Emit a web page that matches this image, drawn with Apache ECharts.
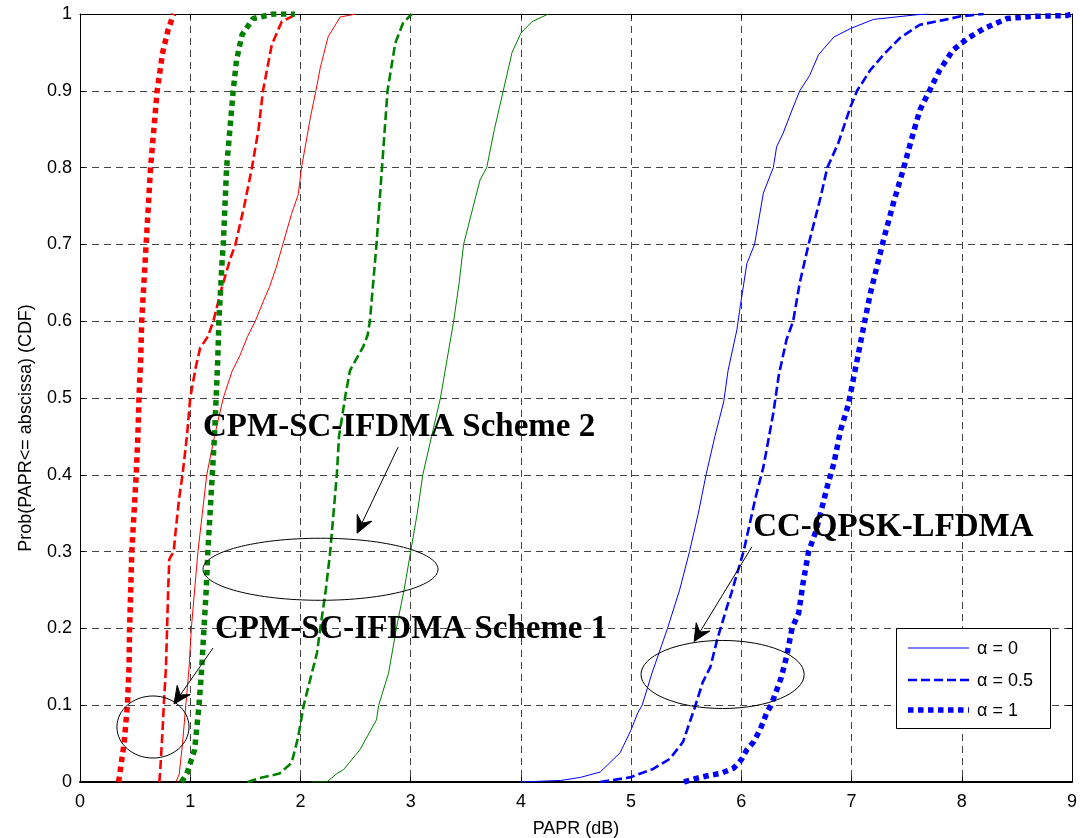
<!DOCTYPE html>
<html>
<head>
<meta charset="utf-8">
<title>PAPR CDF</title>
<script src="https://cdn.jsdelivr.net/npm/echarts@6/dist/echarts.min.js"></script>
<style>
  html, body { margin: 0; padding: 0; background: #fff; }
  #chart { width: 1085px; height: 838px; }
</style>
</head>
<body>
<div id="chart"></div>
<script>
// Empirical CDF curves of PAPR (dB), pairs of [PAPR, Prob]
// CPM-SC-IFDMA Scheme 1 (red)
const scheme1Alpha0 = [[0.87,0],[0.90,0.01],[0.93,0.05],[0.96,0.1],[0.99,0.15],[1.01,0.2],[1.04,0.25],[1.07,0.3],[1.11,0.35],[1.15,0.4],[1.22,0.45],[1.30,0.5],[1.38,0.535],[1.45,0.555],[1.52,0.58],[1.59,0.6],[1.66,0.625],[1.72,0.645],[1.78,0.67],[1.84,0.7],[1.92,0.74],[1.98,0.765],[2.01,0.8],[2.09,0.865],[2.14,0.9],[2.18,0.93],[2.25,0.97],[2.36,0.996],[2.5,1]];
const scheme1Alpha05 = [[0.72,0],[0.73,0.02],[0.75,0.07],[0.76,0.1],[0.78,0.15],[0.79,0.2],[0.80,0.25],[0.81,0.29],[0.85,0.30],[0.87,0.33],[0.90,0.37],[0.93,0.4],[0.97,0.45],[1.00,0.5],[1.05,0.54],[1.09,0.565],[1.16,0.58],[1.21,0.6],[1.28,0.64],[1.36,0.68],[1.41,0.7],[1.49,0.75],[1.56,0.8],[1.62,0.85],[1.66,0.9],[1.74,0.96],[1.83,0.99],[1.97,1.0]];
const scheme1Alpha1 = [[0.35,0],[0.37,0.02],[0.40,0.05],[0.43,0.1],[0.445,0.15],[0.45,0.2],[0.46,0.25],[0.47,0.3],[0.49,0.35],[0.51,0.4],[0.525,0.45],[0.535,0.5],[0.55,0.55],[0.56,0.6],[0.58,0.65],[0.60,0.7],[0.62,0.75],[0.64,0.8],[0.67,0.85],[0.70,0.9],[0.75,0.95],[0.80,0.98],[0.85,1.0]];
// CPM-SC-IFDMA Scheme 2 (green)
const scheme2Alpha0 = [[2.10,0],[2.24,0],[2.33,0.011],[2.39,0.016],[2.54,0.042],[2.69,0.081],[2.71,0.1],[2.80,0.142],[2.87,0.2],[2.94,0.25],[3.0,0.3],[3.06,0.35],[3.11,0.4],[3.19,0.45],[3.27,0.5],[3.33,0.55],[3.39,0.6],[3.44,0.65],[3.48,0.7],[3.59,0.762],[3.63,0.784],[3.69,0.8],[3.76,0.85],[3.84,0.9],[3.92,0.95],[4.0,0.975],[4.1,0.99],[4.25,1]];
const scheme2Alpha05 = [[1.52,0],[1.63,0.005],[1.81,0.011],[1.92,0.025],[1.98,0.059],[2.03,0.1],[2.10,0.14],[2.15,0.168],[2.18,0.2],[2.23,0.25],[2.27,0.3],[2.30,0.35],[2.33,0.4],[2.35,0.45],[2.41,0.505],[2.45,0.536],[2.57,0.567],[2.61,0.582],[2.63,0.6],[2.66,0.65],[2.69,0.7],[2.74,0.8],[2.79,0.9],[2.86,0.962],[2.93,0.988],[3.01,1]];
const scheme2Alpha1 = [[0.92,0],[0.97,0.011],[1.04,0.042],[1.08,0.1],[1.105,0.15],[1.125,0.2],[1.145,0.25],[1.16,0.3],[1.18,0.35],[1.20,0.4],[1.22,0.45],[1.235,0.5],[1.25,0.55],[1.26,0.6],[1.29,0.68],[1.30,0.7],[1.33,0.8],[1.39,0.9],[1.42,0.94],[1.47,0.973],[1.57,0.994],[1.75,1],[1.95,1]];
// CC-QPSK-LFDMA (blue)
const qpskAlpha0 = [[3.99,0],[4.36,0.002],[4.54,0.006],[4.72,0.013],[4.90,0.038],[5.0,0.068],[5.06,0.09],[5.10,0.1],[5.19,0.142],[5.33,0.2],[5.44,0.25],[5.53,0.3],[5.61,0.35],[5.68,0.4],[5.76,0.45],[5.84,0.495],[5.88,0.536],[5.96,0.589],[5.99,0.619],[6.05,0.675],[6.12,0.7],[6.20,0.767],[6.29,0.8],[6.32,0.827],[6.38,0.845],[6.46,0.875],[6.53,0.9],[6.62,0.92],[6.70,0.947],[6.84,0.97],[6.99,0.981],[7.20,0.993],[7.59,0.999],[7.7,1]];
const qpskAlpha05 = [[4.72,0],[4.99,0.006],[5.2,0.017],[5.35,0.03],[5.47,0.052],[5.58,0.098],[5.65,0.13],[5.72,0.15],[5.78,0.185],[5.87,0.228],[5.91,0.246],[6.02,0.3],[6.13,0.371],[6.2,0.41],[6.29,0.48],[6.34,0.53],[6.41,0.576],[6.47,0.6],[6.53,0.65],[6.61,0.7],[6.72,0.762],[6.78,0.8],[6.88,0.832],[6.99,0.879],[7.05,0.9],[7.17,0.927],[7.29,0.947],[7.44,0.969],[7.62,0.986],[7.83,0.992],[7.99,0.997],[8.2,1]];
const qpskAlpha1 = [[5.48,0],[5.6,0.005],[5.72,0.009],[5.81,0.011],[5.93,0.018],[6.0,0.029],[6.05,0.042],[6.11,0.052],[6.17,0.068],[6.23,0.09],[6.27,0.1],[6.36,0.135],[6.41,0.163],[6.46,0.2],[6.52,0.22],[6.56,0.259],[6.61,0.3],[6.68,0.328],[6.78,0.385],[6.84,0.415],[6.90,0.458],[6.97,0.491],[7.05,0.549],[7.11,0.593],[7.17,0.636],[7.23,0.671],[7.29,0.706],[7.38,0.754],[7.46,0.793],[7.55,0.84],[7.62,0.875],[7.71,0.901],[7.80,0.927],[7.92,0.953],[8.05,0.968],[8.2,0.981],[8.41,0.994],[8.65,0.997],[8.95,0.998],[9.0,1]];

// Axis settings
const xMin = 0, xMax = 9, xStep = 1;
const yMin = 0, yMax = 1, yStep = 0.1;
const legendNames = ['\u03b1 = 0', '\u03b1 = 0.5', '\u03b1 = 1'];

// Annotations in data coordinates
const groupLabels = [
  { text: 'CPM-SC-IFDMA Scheme 2', at: [1.116, 0.461] },
  { text: 'CPM-SC-IFDMA Scheme 1', at: [1.225, 0.198] },
  { text: 'CC-QPSK-LFDMA', at: [6.107, 0.331] }
];
const groupEllipses = [
  { center: [0.662, 0.0716], radius: [0.327, 0.0404] },
  { center: [2.182, 0.277], radius: [1.066, 0.0404] },
  { center: [5.830, 0.140], radius: [0.740, 0.0443] }
];
const groupArrows = [
  { from: [2.886, 0.436], to: [2.514, 0.324] },
  { from: [1.207, 0.1745], to: [0.853, 0.1016] },
  { from: [6.095, 0.306], to: [5.572, 0.183] }
];

const RED = '#ff0000', GREEN = '#008000', BLUE = '#0000ff';
const styles = {
  a0: { width: 1, type: 'solid' },
  a05: { width: 2.6, type: [9, 4] },
  a1: { width: 5.5, type: [5.5, 4.5], cap: 'butt' }
};

function curve(name, data, color, st) {
  return {
    name: name,
    type: 'line',
    data: data,
    showSymbol: false,
    symbol: 'none',
    animation: false,
    silent: true,
    color: color,
    lineStyle: Object.assign({ color: color }, st)
  };
}

const chart = echarts.init(document.getElementById('chart'), null, { renderer: 'canvas' });

const axisFont = { fontFamily: 'Liberation Sans', fontSize: 18, color: '#000' };

chart.setOption({
  backgroundColor: '#fff',
  animation: false,
  grid: { left: 80, right: 13, top: 14, bottom: 56, containLabel: false, outerBoundsMode: 'none' },
  xAxis: [{
    type: 'value', min: xMin, max: xMax, interval: xStep,
    name: 'PAPR (dB)', nameLocation: 'middle', nameGap: 38,
    nameTextStyle: { fontFamily: 'Liberation Sans', fontSize: 18, color: '#000' },
    axisLine: { show: true, onZero: false, lineStyle: { color: '#000', width: 2 } },
    axisTick: { show: true, inside: true, length: 5, lineStyle: { color: '#000' } },
    axisLabel: Object.assign({ margin: 11 }, axisFont),
    splitLine: { show: true, lineStyle: { color: '#444', width: 1, type: [7, 5] } }
  }, {
    type: 'value', min: xMin, max: xMax, interval: xStep, position: 'top',
    axisLine: { show: true, onZero: false, lineStyle: { color: '#000', width: 1 } },
    axisTick: { show: true, inside: true, length: 5, lineStyle: { color: '#000' } },
    axisLabel: { show: false }, splitLine: { show: false }
  }],
  yAxis: [{
    type: 'value', min: yMin, max: yMax, interval: yStep,
    axisLine: { show: true, onZero: false, lineStyle: { color: '#000', width: 1 } },
    axisTick: { show: true, inside: true, length: 5, lineStyle: { color: '#000' } },
    axisLabel: Object.assign({ margin: 8 }, axisFont),
    splitLine: { show: true, lineStyle: { color: '#444', width: 1, type: [7, 5] } }
  }, {
    type: 'value', min: yMin, max: yMax, interval: yStep, position: 'right',
    axisLine: { show: true, onZero: false, lineStyle: { color: '#000', width: 1 } },
    axisTick: { show: true, inside: true, length: 5, lineStyle: { color: '#000' } },
    axisLabel: { show: false }, splitLine: { show: false }
  }],
  series: [
    curve('s1a0', scheme1Alpha0, RED, styles.a0),
    curve('s1a05', scheme1Alpha05, RED, styles.a05),
    curve('s1a1', scheme1Alpha1, RED, styles.a1),
    curve('s2a0', scheme2Alpha0, GREEN, styles.a0),
    curve('s2a05', scheme2Alpha05, GREEN, styles.a05),
    curve('s2a1', scheme2Alpha1, GREEN, styles.a1),
    curve(legendNames[0], qpskAlpha0, BLUE, styles.a0),
    curve(legendNames[1], qpskAlpha05, BLUE, styles.a05),
    curve(legendNames[2], qpskAlpha1, BLUE, styles.a1)
  ]
});

// Overlay: group labels, ellipses and arrows placed through the grid's scales
const toPx = (p) => chart.convertToPixel({ gridIndex: 0 }, p);
const overlay = [];

groupEllipses.forEach(function (e) {
  const c = toPx(e.center);
  const rxPx = toPx([e.center[0] + e.radius[0], e.center[1]])[0] - c[0];
  const ryPx = c[1] - toPx([e.center[0], e.center[1] + e.radius[1]])[1];
  overlay.push({
    type: 'ellipse', silent: true, z: 100,
    shape: { cx: c[0], cy: c[1], rx: rxPx, ry: ryPx },
    style: { fill: null, stroke: '#000', lineWidth: 1 }
  });
});

groupArrows.forEach(function (a) {
  const p0 = toPx(a.from), p1 = toPx(a.to);
  const dx = p1[0] - p0[0], dy = p1[1] - p0[1];
  const len = Math.sqrt(dx * dx + dy * dy);
  const ux = dx / len, uy = dy / len;
  const nx = -uy, ny = ux;
  const headLen = 17, headHalf = 8, notch = 11;
  const base = [p1[0] - ux * headLen, p1[1] - uy * headLen];
  const back = [p1[0] - ux * notch, p1[1] - uy * notch];
  overlay.push({
    type: 'line', silent: true, z: 100,
    shape: { x1: p0[0], y1: p0[1], x2: back[0], y2: back[1] },
    style: { stroke: '#000', lineWidth: 1 }
  });
  overlay.push({
    type: 'polygon', silent: true, z: 100,
    shape: { points: [
      [p1[0], p1[1]],
      [base[0] + nx * headHalf, base[1] + ny * headHalf],
      [back[0], back[1]],
      [base[0] - nx * headHalf, base[1] - ny * headHalf]
    ] },
    style: { fill: '#000', stroke: '#000', lineWidth: 1 }
  });
});

groupLabels.forEach(function (l) {
  const p = toPx(l.at);
  overlay.push({
    type: 'text', silent: true, z: 101,
    x: p[0], y: p[1],
    style: {
      text: l.text,
      font: 'bold 33px "Liberation Serif", "Times New Roman", serif',
      fill: '#000',
      align: 'left',
      verticalAlign: 'middle'
    }
  });
});

// Vertical axis title
overlay.push({
  type: 'text', silent: true, z: 101,
  x: 26, y: 428, rotation: Math.PI / 2,
  style: {
    text: 'Prob(PAPR<= abscissa) (CDF)',
    font: '18px "Liberation Sans", Arial, sans-serif',
    fill: '#000', align: 'center', verticalAlign: 'middle'
  }
});

// Legend box for the three roll-off factors
const legendBox = { x: 896, y: 628, w: 154, h: 100 };
const legendRows = [648, 680, 710];
const legendStyles = [styles.a0, styles.a05, styles.a1];
overlay.push({
  type: 'rect', silent: true, z: 102,
  shape: { x: legendBox.x + 0.5, y: legendBox.y + 0.5, width: legendBox.w, height: legendBox.h },
  style: { fill: '#fff', stroke: '#000', lineWidth: 1 }
});
legendNames.forEach(function (name, i) {
  const st = legendStyles[i];
  overlay.push({
    type: 'line', silent: true, z: 103,
    shape: { x1: 908, y1: legendRows[i], x2: 969, y2: legendRows[i] },
    style: {
      stroke: BLUE, lineWidth: st.width,
      lineDash: Array.isArray(st.type) ? st.type : null,
      lineCap: 'butt'
    }
  });
  overlay.push({
    type: 'text', silent: true, z: 103,
    x: 977, y: legendRows[i] + 1,
    style: {
      text: name,
      font: '18px "Liberation Sans", Arial, sans-serif',
      fill: '#000', align: 'left', verticalAlign: 'middle'
    }
  });
});

chart.setOption({ graphic: overlay });
</script>
</body>
</html>
